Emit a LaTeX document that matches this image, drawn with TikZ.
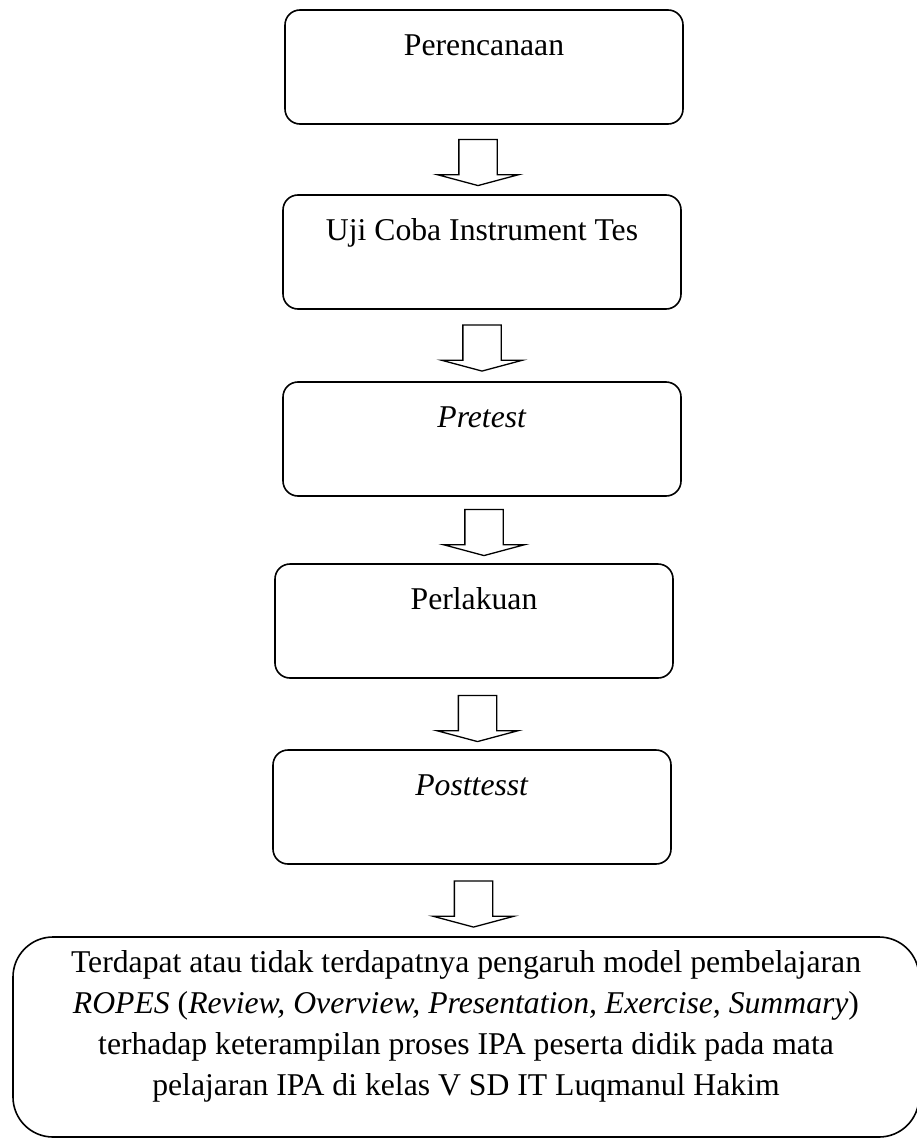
\documentclass[tikz,border=0pt]{standalone}
\usepackage{fontspec}
\setmainfont{Liberation Serif}
\usetikzlibrary{shapes.arrows}
\begin{document}
\begin{tikzpicture}[x=1pt,y=-1pt,
    stage/.style={draw, line width=1.6pt, rounded corners=15pt, inner sep=0pt,
        minimum width=398pt, minimum height=114pt, align=center,
        font=\fontsize{31.7}{41}\selectfont},
    downarrow/.style={draw, line width=1.3pt, single arrow, rotate=-90,
        inner xsep=0pt, inner ysep=18.5pt, minimum height=46pt,
        single arrow head extend=21.5pt, single arrow tip angle=150}]
    \useasboundingbox (0,0) rectangle (916,1142);
    \node[stage] (plan) at (484,67) {Perencanaan\\[-9pt]\strut};
    \node[stage] (trial) at (482,252) {Uji Coba Instrument Tes\\[-9pt]\strut};
    \node[stage] (pre) at (482,439) {\textit{Pretest}\\[-9pt]\strut};
    \node[stage] (treat) at (474,621) {Perlakuan\\[-9pt]\strut};
    \node[stage] (post) at (472,807) {\textit{Posttesst}\\[-9pt]\strut};
    \node[stage, rounded corners=40pt, minimum width=906pt, minimum height=200pt] (result) at (466,1037)
        {Terdapat atau tidak terdapatnya pengaruh model pembelajaran\\
        \textit{ROPES} (\textit{Review, Overview, Presentation, Exercise, Summary})\\
        terhadap keterampilan proses IPA peserta didik pada mata\\
        pelajaran IPA di kelas V SD IT Luqmanul Hakim\\[-26pt]\strut};
    \node[downarrow] (a1) at (478,160) {};
    \node[downarrow] (a2) at (482,345.5) {};
    \node[downarrow] (a3) at (484,530) {};
    \node[downarrow] (a4) at (477.5,716) {};
    \node[downarrow] (a5) at (473.5,901.5) {};
\end{tikzpicture}
\end{document}
